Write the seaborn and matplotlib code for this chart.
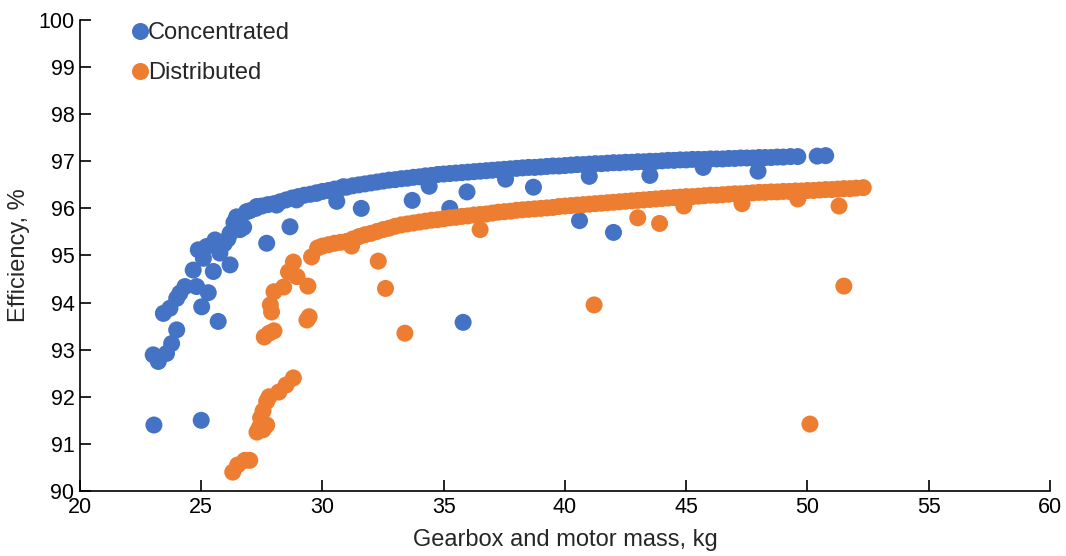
import matplotlib
matplotlib.use("Agg")
import matplotlib.pyplot as plt
import pandas as pd
import seaborn as sns

# Concentrated layout: scattered low-mass designs, dense front, off-front points
conc_mass = [
    23.05, 25.0,
    23.02, 23.23, 23.57, 23.78, 23.99, 23.44, 23.71, 23.99, 24.12, 24.33,
    24.81, 25.29, 25.02, 25.7, 24.67, 24.88, 25.09, 25.22, 25.57, 25.5,
    25.77, 26.19, 26.19, 26.46, 26.87, 27.29, 27.7, 28.66, 28.11, 28.93,
    29.76, 30.59, 30.86, 25.95, 26.6, 26.75, 26.35, 26.1,
    27.0, 27.5, 28.0, 28.5, 29.0, 29.5, 30.0, 30.5, 31.0, 31.5, 32.0, 32.5,
    33.0, 33.5, 34.0, 34.5, 35.0, 35.5, 36.0, 36.5, 37.0, 37.5, 38.0, 38.5,
    39.0, 39.5, 40.0, 40.5, 41.0, 41.5, 42.0, 42.5, 43.0, 43.5, 44.0, 44.5,
    45.0, 45.5, 46.0, 46.5, 47.0, 47.5, 48.0, 48.5, 49.0, 49.3, 49.6,
    27.25, 27.75, 28.25, 28.75, 29.25, 29.75, 30.25, 30.75, 31.25, 31.75,
    32.25, 32.75, 33.25, 33.75, 34.25, 34.75, 35.25, 35.75, 36.25, 36.75,
    37.25, 37.75, 38.25, 38.75, 39.25, 39.75, 40.25, 40.75, 41.25, 41.75,
    42.25, 42.75, 43.25, 43.75, 44.25, 44.75, 45.25, 45.75, 46.25, 46.75,
    47.25, 47.75, 48.25, 48.75,
    50.4, 50.75,
    31.6, 33.7, 34.4, 35.96, 35.25, 35.8, 37.55, 38.7, 40.6, 41.0, 42.0,
    43.5, 45.7, 47.96,
]
conc_eff = [
    91.4, 91.5,
    92.89, 92.75, 92.92, 93.13, 93.42, 93.77, 93.88, 94.09, 94.2, 94.34,
    94.34, 94.21, 93.91, 93.6, 94.69, 95.12, 94.94, 95.19, 95.33, 94.66,
    95.05, 94.8, 95.47, 95.82, 95.93, 96.04, 95.26, 95.61, 96.07, 96.18,
    96.32, 96.15, 96.46, 95.25, 95.55, 95.6, 95.7, 95.35,
    95.95, 96.05, 96.1, 96.18, 96.25, 96.3, 96.36, 96.41, 96.45, 96.5, 96.54, 96.58,
    96.61, 96.64, 96.67, 96.7, 96.73, 96.75, 96.77, 96.79, 96.81, 96.83, 96.85, 96.87,
    96.88, 96.9, 96.91, 96.93, 96.94, 96.95, 96.97, 96.98, 96.99, 97.0, 97.01, 97.02,
    97.03, 97.04, 97.05, 97.05, 97.06, 97.07, 97.08, 97.08, 97.09, 97.1, 97.1,
    96.0, 96.08, 96.14, 96.22, 96.28, 96.33, 96.38, 96.43, 96.48, 96.52,
    96.56, 96.6, 96.63, 96.66, 96.69, 96.72, 96.74, 96.76, 96.78, 96.8,
    96.82, 96.84, 96.86, 96.87, 96.89, 96.9, 96.92, 96.93, 96.95, 96.96,
    96.97, 96.98, 96.99, 97.0, 97.02, 97.03, 97.04, 97.04, 97.05, 97.06,
    97.07, 97.07, 97.08, 97.09,
    97.11, 97.12,
    96.0, 96.17, 96.47, 96.35, 96.0, 93.58, 96.62, 96.45, 95.74, 96.68, 95.49,
    96.7, 96.87, 96.79,
]

# Distributed layout
dist_mass = [
    26.3, 26.5, 26.8, 27.0,
    27.3, 27.4, 27.55, 27.7, 27.45, 27.55, 27.7, 27.8, 28.2, 28.5, 28.8,
    27.6, 27.8, 28.0, 29.36, 29.45, 27.9, 27.85, 28.0, 28.4, 28.6, 28.8,
    28.95, 29.4, 29.55, 29.8,
    30.0, 30.5, 31.0, 31.5, 32.0, 32.5, 33.0, 33.5, 34.0, 34.5, 35.0, 35.5,
    36.0, 36.5, 37.0, 37.5, 38.0, 38.5, 39.0, 39.5, 40.0, 40.5, 41.0, 41.5,
    42.0, 42.5, 43.0, 43.5, 44.0, 44.5, 45.0, 45.5, 46.0, 46.5, 47.0, 47.5,
    48.0, 48.5, 49.0, 49.5, 50.0, 50.5, 51.0, 51.5, 52.0, 52.3,
    30.25, 30.75, 31.25, 31.75, 32.25, 32.75, 33.25, 33.75, 34.25, 34.75,
    35.25, 35.75, 36.25, 36.75, 37.25, 37.75, 38.25, 38.75, 39.25, 39.75,
    40.25, 40.75, 41.25, 41.75, 42.25, 42.75, 43.25, 43.75, 44.25, 44.75,
    45.25, 45.75, 46.25, 46.75, 47.25, 47.75, 48.25, 48.75, 49.25, 49.75,
    50.25, 50.75, 51.25, 51.75,
    31.2, 32.3, 32.6, 33.4, 36.5, 41.2, 43.0, 43.9, 44.9, 47.3, 49.6, 51.3,
    51.5, 50.1,
]
dist_eff = [
    90.4, 90.55, 90.65, 90.65,
    91.25, 91.35, 91.3, 91.4, 91.55, 91.7, 91.9, 92.0, 92.1, 92.25, 92.4,
    93.27, 93.35, 93.4, 93.63, 93.7, 93.8, 93.95, 94.23, 94.33, 94.65, 94.86,
    94.55, 94.35, 94.97, 95.16,
    95.2, 95.26, 95.3, 95.4, 95.47, 95.55, 95.62, 95.67, 95.71, 95.75, 95.78, 95.81,
    95.84, 95.87, 95.9, 95.93, 95.96, 95.98, 96.0, 96.02, 96.05, 96.07, 96.09, 96.11,
    96.13, 96.15, 96.17, 96.19, 96.21, 96.23, 96.25, 96.26, 96.28, 96.29, 96.31, 96.32,
    96.34, 96.35, 96.36, 96.37, 96.38, 96.39, 96.4, 96.42, 96.43, 96.44,
    95.23, 95.28, 95.35, 95.44, 95.51, 95.58, 95.65, 95.69, 95.73, 95.76,
    95.8, 95.83, 95.86, 95.88, 95.92, 95.94, 95.97, 95.99, 96.01, 96.04,
    96.06, 96.08, 96.1, 96.12, 96.14, 96.16, 96.18, 96.2, 96.22, 96.24,
    96.25, 96.27, 96.28, 96.3, 96.31, 96.33, 96.34, 96.35, 96.36, 96.37,
    96.38, 96.4, 96.41, 96.42,
    95.2, 94.88, 94.3, 93.35, 95.55, 93.95, 95.8, 95.68, 96.05, 96.1, 96.2, 96.05,
    94.35, 91.42,
]

x_ticks = [20, 25, 30, 35, 40, 45, 50, 55, 60]
y_ticks = [90, 91, 92, 93, 94, 95, 96, 97, 98, 99, 100]

df = pd.concat([
    pd.DataFrame({"mass": conc_mass, "eff": conc_eff, "layout": "Concentrated"}),
    pd.DataFrame({"mass": dist_mass, "eff": dist_eff, "layout": "Distributed"}),
], ignore_index=True)

sns.set_style("ticks")
plt.rcParams["font.family"] = ["Liberation Sans", "DejaVu Sans"]

fig = plt.figure(figsize=(10.66, 5.56), dpi=100)
ax = fig.add_axes([0.075, 0.117, 0.91, 0.847])

sns.scatterplot(
    data=df, x="mass", y="eff", hue="layout",
    palette={"Concentrated": "#4472C4", "Distributed": "#ED7D31"},
    s=150, linewidth=0, edgecolor="none", alpha=1.0, ax=ax,
)

ax.set_xlim(20, 60)
ax.set_ylim(90, 100)
ax.set_xticks(x_ticks)
ax.set_yticks(y_ticks)
ax.tick_params(direction="in", length=8, width=1.2, labelsize=15.5, pad=4,
               colors="black")
ax.set_xlabel("Gearbox and motor mass, kg", fontsize=17, labelpad=8)
ax.set_ylabel("Efficiency, %", fontsize=17, labelpad=6)
for side in ["top", "right"]:
    ax.spines[side].set_visible(False)
for side in ["left", "bottom"]:
    ax.spines[side].set_linewidth(1.2)
    ax.spines[side].set_color("black")

leg = ax.legend(
    loc="upper left", bbox_to_anchor=(0.035, 1.02), frameon=False,
    fontsize=17, handletextpad=-0.25, labelspacing=0.75, borderpad=0,
    markerscale=1.0, handlelength=1.2,
)

fig.savefig("out.png", dpi=100)
plt.close(fig)
